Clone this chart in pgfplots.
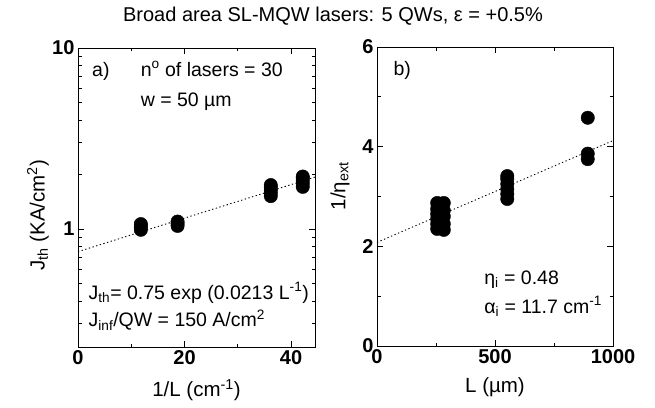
\documentclass[border=0pt]{standalone}
\usepackage{fontspec}
\setmainfont{Liberation Sans}
\usepackage{pgfplots}
\pgfplotsset{compat=1.18}
\pgfplotsset{
  panel/.style={
    scale only axis,
    anchor=south west,
    axis line style={line width=1pt},
    tick align=inside,
    major tick length=6pt,
    minor tick length=3.5pt,
    tick style={line width=0.8pt, black},
    tick label style={font=\fontsize{20}{22}\selectfont\bfseries},
    label style={font=\fontsize{20.5}{23}\selectfont},
    /pgf/number format/assume math mode=true,
    /pgf/number format/set thousands separator={},
  },
  dots/.style={only marks, mark=*, mark size=6.7pt, black, mark options={fill=black, draw=black}},
  fit/.style={black, line width=0.9pt, dash pattern=on 1.3pt off 2.5pt},
}
\tikzset{ann/.style={anchor=base west, font=\fontsize{19.5}{22}\selectfont}}
\begin{document}
\begin{tikzpicture}[x=1pt,y=1pt]
\path[use as bounding box] (0,0) rectangle (655,407);
\node[font=\fontsize{20}{23}\selectfont] at (333,391) {Broad area SL-MQW lasers: 5 QWs, ε = +0.5\%};

\begin{axis}[panel,
  at={(78pt,60pt)}, width=237pt, height=299pt,
  xmin=0, xmax=44.5, ymode=log, ymin=0.223, ymax=10,
  xtick={0,20,40}, minor xtick={10,30},
  ytick={1,10}, yticklabels={1,10},
  minor ytick={0.3,0.4,0.5,0.6,0.7,0.8,0.9,2,3,4,5,6,7,8,9},
  xlabel={1/L (cm\textsuperscript{-1})},
  ylabel={J\textsubscript{th} (KA/cm\textsuperscript{2})},
  xlabel style={at={(axis description cs:0.5,-0.144)}, anchor=center},
  ylabel style={at={(axis description cs:-0.169,0.44)}, anchor=center},
  clip=false,
]
\addplot[fit] coordinates {(0,0.75) (44.5,1.936)};
\addplot[dots] coordinates {
 (11.8,0.99) (11.8,1.02) (11.8,1.05) (11.8,1.065)
 (18.7,1.04) (18.7,1.07) (18.7,1.10)
 (36.2,1.52) (36.2,1.58) (36.2,1.64) (36.2,1.70) (36.2,1.75)
 (42.2,1.71) (42.2,1.78) (42.2,1.85) (42.2,1.92) (42.2,1.95)
};
\node[ann] at (axis description cs:0.045,0.905) {a)};
\node[ann] at (axis description cs:0.25,0.905) {n\textsuperscript{o} of lasers = 30};
\node[ann] at (axis description cs:0.25,0.806) {w = 50 µm};
\node[ann] at (axis description cs:0.03,0.16) {J\textsubscript{th}= 0.75 exp (0.0213 L\textsuperscript{-1})};
\node[ann] at (axis description cs:0.03,0.067) {J\textsubscript{inf}/QW = 150 A/cm\textsuperscript{2}};
\end{axis}

\begin{axis}[panel,
  at={(377pt,61pt)}, width=236pt, height=299pt,
  xmin=0, xmax=1000, ymin=0, ymax=6,
  xtick={0,500,1000}, minor xtick={250,750},
  ytick={0,2,4,6}, minor ytick={1,3,5},
  xlabel={L (µm)},
  ylabel={1/η\textsubscript{ext}},
  xlabel style={at={(axis description cs:0.5,-0.137)}, anchor=center},
  ylabel style={at={(axis description cs:-0.157,0.535)}, anchor=center},
  clip=false,
]
\addplot[fit] coordinates {(0,2.08) (1000,4.12)};
\addplot[dots] coordinates {
 (255,2.35) (255,2.45) (255,2.55) (255,2.65) (255,2.75) (255,2.87)
 (283,2.33) (283,2.45) (283,2.6) (283,2.72) (283,2.87)
 (552,2.95) (552,3.05) (552,3.15) (552,3.25) (552,3.35) (552,3.41)
 (893,3.75) (893,3.86) (893,4.58)
};
\node[ann] at (axis description cs:0.055,0.905) {b)};
\node[ann] at (axis description cs:0.44,0.207) {η\textsubscript{i} = 0.48};
\node[ann] at (axis description cs:0.44,0.11) {α\textsubscript{i} = 11.7 cm\textsuperscript{-1}};
\end{axis}
\end{tikzpicture}
\end{document}
